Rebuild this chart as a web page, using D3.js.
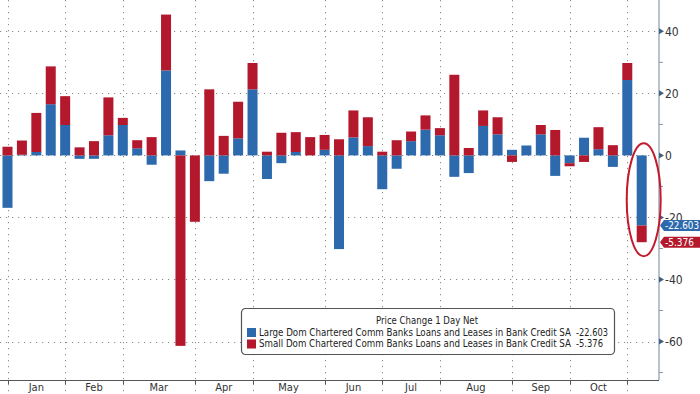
<!DOCTYPE html>
<html>
<head>
<meta charset="utf-8">
<script src="https://cdn.jsdelivr.net/npm/d3@7"></script>
<style>
  body { margin: 0; background: #fff; }
  svg { display: block; font-family: "DejaVu Sans Condensed", "DejaVu Sans", sans-serif; }
</style>
</head>
<body>
<script>
// weekly data, week ending Wednesday, 2023
const firstWeek = new Date(2023, 0, 4)
const weeks = d3.range(45).map(i => d3.timeDay.offset(firstWeek, i * 7))

// large dom chartered comm banks (blue)
const large = [-16.9, 0.2, 1.1, 16.5, 9.8, -1.1, -1.1, 6.5, 9.8, 2.3,
  -3.0, 27.4, 1.6, 0, -8.3, -5.9, 5.5, 21.3, -7.6, -2.5,
  1.1, 0, 1.8, -30.2, 5.8, 3.0, -10.9, -4.3, 4.6, 8.3,
  6.5, -6.9, -5.7, 9.5, 6.8, 1.8, 3.2, 6.8, -6.6, -2.5,
  5.7, 2.0, -3.7, 24.3, -22.603]
// small dom chartered comm banks (red)
const small = [2.8, 4.6, 12.6, 12.2, 9.3, 2.6, 4.6, 12.2, 2.3, 2.6,
  5.9, 18.0, -61.4, -21.4, 21.3, 6.3, 11.8, 8.5, 1.2, 7.3,
  6.4, 5.9, 4.8, 5.2, 8.7, 9.3, 1.2, 4.9, 3.1, 4.6,
  2.3, 26.0, 2.4, 5.0, 5.5, -2.1, 0, 3.0, 8.2, -1.0,
  -2.1, 7.1, 3.3, 5.5, -5.376]

const majorTicks = [-60, -40, -20, 0, 20, 40]
const minorTicks = [-70, -50, -30, -10, 10, 30]
const monthNames = ['Jan', 'Feb', 'Mar', 'Apr', 'May', 'Jun', 'Jul', 'Aug', 'Sep', 'Oct']

const legendTitle = 'Price Change 1 Day Net'
const seriesNames = [
  'Large Dom Chartered Comm Banks Loans and Leases in Bank Credit SA',
  'Small Dom Chartered Comm Banks Loans and Leases in Bank Credit SA'
]
const lastLarge = '-22.603'
const lastSmall = '-5.376'

const BLUE = '#2c6aad'
const RED = '#b4182d'

const WIDTH = 700
const HEIGHT = 394
const plotRight = 659
const plotBottom = 380

const x = d3.scaleTime()
  .domain([weeks[0], weeks[weeks.length - 1]])
  .range([7.5, 641.7])

const y = d3.scaleLinear()
  .domain([-72.4, 50.1])
  .range([plotBottom, 0])

const barW = 10

const table = weeks.map((d, i) => ({ date: d, large: large[i], small: small[i] }))
const series = d3.stack()
  .keys(['large', 'small'])
  .offset(d3.stackOffsetDiverging)(table)

const svg = d3.select('body')
  .append('svg')
  .attr('width', WIDTH)
  .attr('height', HEIGHT)

// month boundaries = first week of each month
const monthStarts = weeks.filter((d, i) => i === 0 || d.getMonth() !== weeks[i - 1].getMonth())

// grid
svg.append('g')
  .selectAll('line')
  .data(majorTicks)
  .enter()
  .append('line')
  .attr('x1', 0)
  .attr('x2', plotRight)
  .attr('y1', d => Math.round(y(d)) + 0.5)
  .attr('y2', d => Math.round(y(d)) + 0.5)
  .attr('stroke', '#8a8a8a')
  .attr('stroke-width', 1)
  .attr('stroke-dasharray', '1.2,4.8')

svg.append('g')
  .selectAll('line')
  .data(monthStarts)
  .enter()
  .append('line')
  .attr('x1', d => Math.round(x(d)) + 0.5)
  .attr('x2', d => Math.round(x(d)) + 0.5)
  .attr('y1', 0)
  .attr('y2', HEIGHT)
  .attr('stroke', '#8a8a8a')
  .attr('stroke-width', 1)
  .attr('stroke-dasharray', '1.2,4.8')

// bars
svg.append('g')
  .selectAll('g')
  .data(series)
  .enter()
  .append('g')
  .attr('fill', d => d.key === 'large' ? BLUE : RED)
  .selectAll('rect')
  .data(d => d)
  .enter()
  .append('rect')
  .attr('x', d => x(d.data.date) - barW / 2)
  .attr('y', d => y(Math.max(d[0], d[1])))
  .attr('width', barW)
  .attr('height', d => Math.abs(y(d[0]) - y(d[1])))

// bottom axis
svg.append('line')
  .attr('x1', 0)
  .attr('x2', plotRight)
  .attr('y1', plotBottom + 0.5)
  .attr('y2', plotBottom + 0.5)
  .attr('stroke', '#555')
  .attr('stroke-width', 1.2)

svg.append('g')
  .selectAll('line')
  .data(monthStarts)
  .enter()
  .append('line')
  .attr('x1', d => Math.round(x(d)) + 0.5)
  .attr('x2', d => Math.round(x(d)) + 0.5)
  .attr('y1', plotBottom)
  .attr('y2', plotBottom + 4)
  .attr('stroke', '#555')

svg.append('g')
  .selectAll('text')
  .data(monthNames)
  .enter()
  .append('text')
  .attr('x', (d, i) => (x(monthStarts[i]) + x(monthStarts[i + 1])) / 2)
  .attr('y', 391)
  .attr('text-anchor', 'middle')
  .attr('font-size', 11)
  .attr('fill', '#333')
  .text(d => d)

// right axis
const yAxis = svg.append('g')
  .attr('transform', `translate(${plotRight},0)`)

yAxis.append('line')
  .attr('y1', 0)
  .attr('y2', plotBottom)
  .attr('stroke', '#9fb0bf')
  .attr('stroke-width', 1.5)

yAxis.selectAll('.minor')
  .data(minorTicks)
  .enter()
  .append('line')
  .attr('x1', 0)
  .attr('x2', 4)
  .attr('y1', d => y(d))
  .attr('y2', d => y(d))
  .attr('stroke', '#8296a8')

yAxis.selectAll('.tri')
  .data(majorTicks)
  .enter()
  .append('path')
  .attr('d', d => `M0,${y(d) - 3}L5,${y(d)}L0,${y(d) + 3}Z`)
  .attr('fill', '#3e5f80')

yAxis.selectAll('.lbl')
  .data(majorTicks)
  .enter()
  .append('text')
  .attr('x', 6)
  .attr('y', d => y(d))
  .attr('dy', '0.36em')
  .attr('font-size', 12)
  .attr('fill', '#333')
  .text(d => d)

// last value tags
const lastIdx = weeks.length - 1
const tags = [
  { v: large[lastIdx], text: lastLarge, color: BLUE },
  { v: large[lastIdx] + small[lastIdx], text: lastSmall, color: RED }
]
const tag = svg.append('g')
  .selectAll('g')
  .data(tags)
  .enter()
  .append('g')
  .attr('transform', d => `translate(${plotRight + 1},${y(d.v)})`)
tag.append('path')
  .attr('d', 'M0,0L4,-5.5H41V5.5H4Z')
  .attr('fill', d => d.color)
tag.append('text')
  .attr('x', 5)
  .attr('dy', '0.36em')
  .attr('font-size', 10.5)
  .attr('fill', '#fff')
  .attr('textLength', d => d.text.length > 6 ? 34 : 29)
  .attr('lengthAdjust', 'spacingAndGlyphs')
  .text(d => d.text)

// highlight ellipse on the last bar
svg.append('ellipse')
  .attr('cx', x(weeks[lastIdx]) + 2)
  .attr('cy', (y(0) + y(large[lastIdx] + small[lastIdx])) / 2 + 1)
  .attr('rx', 17)
  .attr('ry', 56.5)
  .attr('fill', 'none')
  .attr('stroke', '#c41a2c')
  .attr('stroke-width', 2)

// legend
const legend = svg.append('g')
  .attr('transform', 'translate(241,308)')

legend.append('rect')
  .attr('x', 0.5)
  .attr('y', 0.5)
  .attr('width', 373)
  .attr('height', 46)
  .attr('rx', 4)
  .attr('fill', '#fff')
  .attr('stroke', '#555')
  .attr('stroke-width', 1.2)

legend.append('text')
  .attr('x', 135)
  .attr('y', 13)
  .attr('dy', '0.35em')
  .attr('font-size', 9.7)
  .attr('fill', '#222')
  .attr('textLength', 102)
  .attr('lengthAdjust', 'spacingAndGlyphs')
  .text(legendTitle)

const rows = legend.selectAll('.row')
  .data([
    { name: seriesNames[0], value: lastLarge, color: BLUE },
    { name: seriesNames[1], value: lastSmall, color: RED }
  ])
  .enter()
  .append('g')
  .attr('transform', (d, i) => `translate(0,${24.5 + i * 11.5})`)

rows.append('rect')
  .attr('x', 6)
  .attr('y', -4.5)
  .attr('width', 9)
  .attr('height', 9)
  .attr('fill', d => d.color)

rows.append('text')
  .attr('x', 18)
  .attr('dy', '0.35em')
  .attr('font-size', 9.6)
  .attr('fill', '#222')
  .attr('textLength', 312)
  .attr('lengthAdjust', 'spacingAndGlyphs')
  .text(d => d.name)

rows.append('text')
  .attr('x', 335)
  .attr('dy', '0.35em')
  .attr('font-size', 9.6)
  .attr('fill', '#222')
  .attr('textLength', d => d.value.length > 6 ? 32 : 27)
  .attr('lengthAdjust', 'spacingAndGlyphs')
  .text(d => d.value)
</script>
</body>
</html>
